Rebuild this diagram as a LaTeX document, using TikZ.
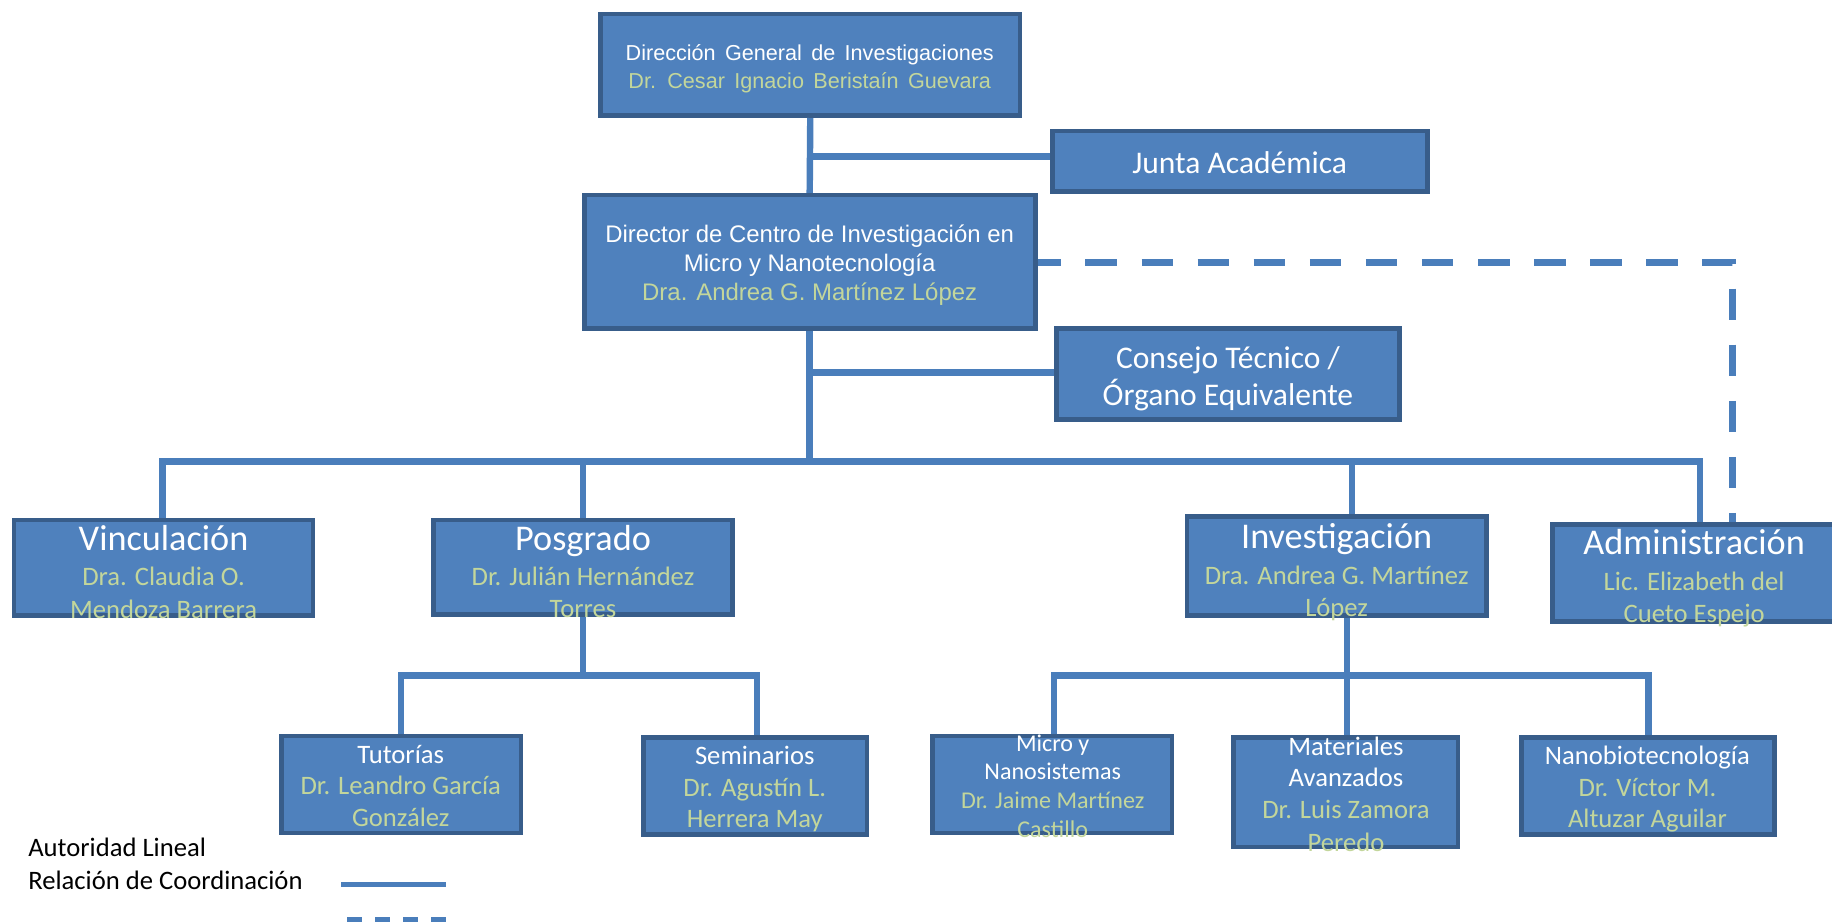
\documentclass[tikz,border=0pt]{standalone}
\usepackage{fontspec}
\setmainfont{Carlito}
\newfontfamily\arialf{Liberation Sans}
\definecolor{boxfill}{HTML}{4F81BD}
\definecolor{boxline}{HTML}{385D8A}
\definecolor{linkc}{HTML}{4A7EBB}
\definecolor{namec}{HTML}{C3D69B}
\newcommand\fsz[1]{\fontsize{#1}{#1}\selectfont}
\newcommand\arwide{\spaceskip 8pt\relax}
\begin{document}
\begin{tikzpicture}[x=1pt,y=-1pt,
  box/.style={draw=boxline, fill=boxfill, line width=4pt, inner sep=0pt, rectangle},
  link/.style={draw=linkc, line width=5.5pt},
  coordl/.style={draw=linkc, line width=6pt, dash pattern=on 27pt off 21pt, dash phase=7pt},
  wt/.style={inner sep=0pt, anchor=mid, text=white},
  gt/.style={inner sep=0pt, anchor=mid, text=namec},
  bt/.style={inner sep=0pt, anchor=mid west, text=black},
  ttl/.style={font=\fsz{31}, yshift=-8pt},
  nmf/.style={font=\fsz{22.8}, yshift=-6pt},
  big/.style={font=\fsz{27}, yshift=-7pt},
  ar/.style={font=\arialf\fsz{18.5}\arwide, yshift=-4.5pt},
  ar2/.style={font=\arialf\fsz{20.5}, yshift=-5pt},
  sm/.style={font=\fsz{20.6}, yshift=-5pt}]
\useasboundingbox (0,0) rectangle (1568,789);
\clip (0,0) rectangle (1568,789);

% boxes
\node[box, minimum width=359pt, minimum height=87pt] (dgi) at (693.5,55.5) {};
\node[box, minimum width=321pt, minimum height=52pt] (junta) at (1061.5,138) {};
\node[box, minimum width=386pt, minimum height=114pt] (dir) at (693,224) {};
\node[box, minimum width=294pt, minimum height=78pt] (cons) at (1051,320) {};
\node[box, minimum width=256pt, minimum height=82pt] (vinc) at (140,486) {};
\node[box, minimum width=256pt, minimum height=81pt] (pos) at (499,485.5) {};
\node[box, minimum width=256pt, minimum height=85pt] (inv) at (1144,484.5) {};
\node[box, minimum width=256pt, minimum height=83pt] (adm) at (1457,490.5) {};
\node[box, minimum width=205pt, minimum height=83pt] (tut) at (343.5,671.5) {};
\node[box, minimum width=191pt, minimum height=83pt] (sem) at (646.5,672.5) {};
\node[box, minimum width=205pt, minimum height=83pt] (mic) at (900.5,671.5) {};
\node[box, minimum width=192pt, minimum height=94pt] (mat) at (1152,678) {};
\node[box, minimum width=217pt, minimum height=83pt] (nano) at (1410.5,672.5) {};

% connectors
\draw[link] (dgi.south) -- (dir.north);
\coordinate (jb) at (693,134);
\draw[link] (jb) -- (jb -| junta.west);
\coordinate (cb) at (693,319);
\draw[link] (cb) -- (cb -| cons.west);
\coordinate (busL) at (139,395);
\coordinate (busR) at (1455,395);
\draw[link] (dir.south) -- (dir.south |- busL);
\draw[link] (busL |- vinc.north) -- (busL) -- (busR) -- (busR |- adm.north);
\draw[link] (busL -| pos.north) -- (pos.north);
\coordinate (invx) at (1157,395);
\draw[link] (invx) -- (invx |- inv.north);
\coordinate (pb) at (499,578);
\draw[link] (pos.south) -- (pos.south |- pb);
\coordinate (pbL) at (343,578);
\coordinate (pbR) at (648,578);
\draw[link] (pbL |- tut.north) -- (pbL) -- (pbR) -- (pbR |- sem.north);
\coordinate (ib) at (1153,578);
\draw[link] (ib |- inv.south) -- (ib);
\coordinate (ibL) at (902,578);
\coordinate (ibR) at (1411,578);
\draw[link] (ibL |- mic.north) -- (ibL) -- (ibR) -- (ibR |- nano.north);
\draw[link] (ib) -- (ib |- mat.north);
\coordinate (cor) at (1483,225);
\draw[coordl] (dir.east |- cor) -- (cor) -- (cor |- adm.north);

% texts
\node[wt, ar] (t1a) at (693,45) {Dirección General de Investigaciones};
\node[gt, ar] (t1b) at (693,69) {Dr. Cesar Ignacio Beristaín Guevara};
\node[wt, big] (t2) at (1061,139) {Junta Académica};
\node[wt, ar2] (t3a) at (693,200) {Director de Centro de Investigación en};
\node[wt, ar2] (t3b) at (693,225) {Micro y Nanotecnología};
\node[gt, ar2] (t3c) at (693,250) {Dra. Andrea G. Martínez López};
\node[wt, big] (t4a) at (1051,306) {Consejo Técnico /};
\node[wt, big] (t4b) at (1051,338) {Órgano Equivalente};

\node[wt, ttl] (t5a) at (140,461) {Vinculación};
\node[gt, nmf] (t5b) at (140,493) {Dra. Claudia O.};
\node[gt, nmf] (t5c) at (140,521) {Mendoza Barrera};
\node[wt, ttl] (t6a) at (499,461) {Posgrado};
\node[gt, nmf] (t6b) at (499,493) {Dr. Julián Hernández};
\node[gt, nmf] (t6c) at (499,520) {Torres};
\node[wt, ttl] (t7a) at (1144,459) {Investigación};
\node[gt, nmf] (t7b) at (1144,492) {Dra. Andrea G. Martínez};
\node[gt, nmf] (t7c) at (1144,519) {López};
\node[wt, ttl] (t8a) at (1450,464) {Administración};
\node[gt, nmf] (t8b) at (1450,497) {Lic. Elizabeth del};
\node[gt, nmf] (t8c) at (1450,524) {Cueto Espejo};

\node[wt, nmf] (t9a) at (343,645) {Tutorías};
\node[gt, nmf] (t9b) at (343,672) {Dr. Leandro García};
\node[gt, nmf] (t9c) at (343,699) {González};
\node[wt, nmf] (t10a) at (646,646) {Seminarios};
\node[gt, nmf] (t10b) at (646,673) {Dr. Agustín L.};
\node[gt, nmf] (t10c) at (646,700) {Herrera May};
\node[wt, sm] (t11a) at (901,636) {Micro y};
\node[wt, sm] (t11b) at (901,660) {Nanosistemas};
\node[gt, sm] (t11c) at (901,685) {Dr. Jaime Martínez};
\node[gt, sm] (t11d) at (901,709) {Castillo};
\node[wt, nmf] (t12a) at (1152,638) {Materiales};
\node[wt, nmf] (t12b) at (1152,665) {Avanzados};
\node[gt, nmf] (t12c) at (1152,692) {Dr. Luis Zamora};
\node[gt, nmf] (t12d) at (1152,720) {Peredo};
\node[wt, nmf] (t13a) at (1410,646) {Nanobiotecnología};
\node[gt, nmf] (t13b) at (1410,673) {Dr. Víctor M.};
\node[gt, nmf] (t13c) at (1410,700) {Altuzar Aguilar};

% legend
\node[bt, nmf] (lg1) at (24,725) {Autoridad Lineal};
\node[bt, nmf] (lg2) at (24,753) {Relación de Coordinación};
\coordinate (ls1) at (292,757);
\coordinate (ls2) at (382,757);
\draw[draw=linkc, line width=4pt] (ls1) -- (ls2);
\coordinate (ld1) at (297,787);
\coordinate (ld2) at (382,787);
\draw[draw=linkc, line width=4pt, dash pattern=on 13pt off 11pt] (ld1) -- (ld2);
\end{tikzpicture}
\end{document}
